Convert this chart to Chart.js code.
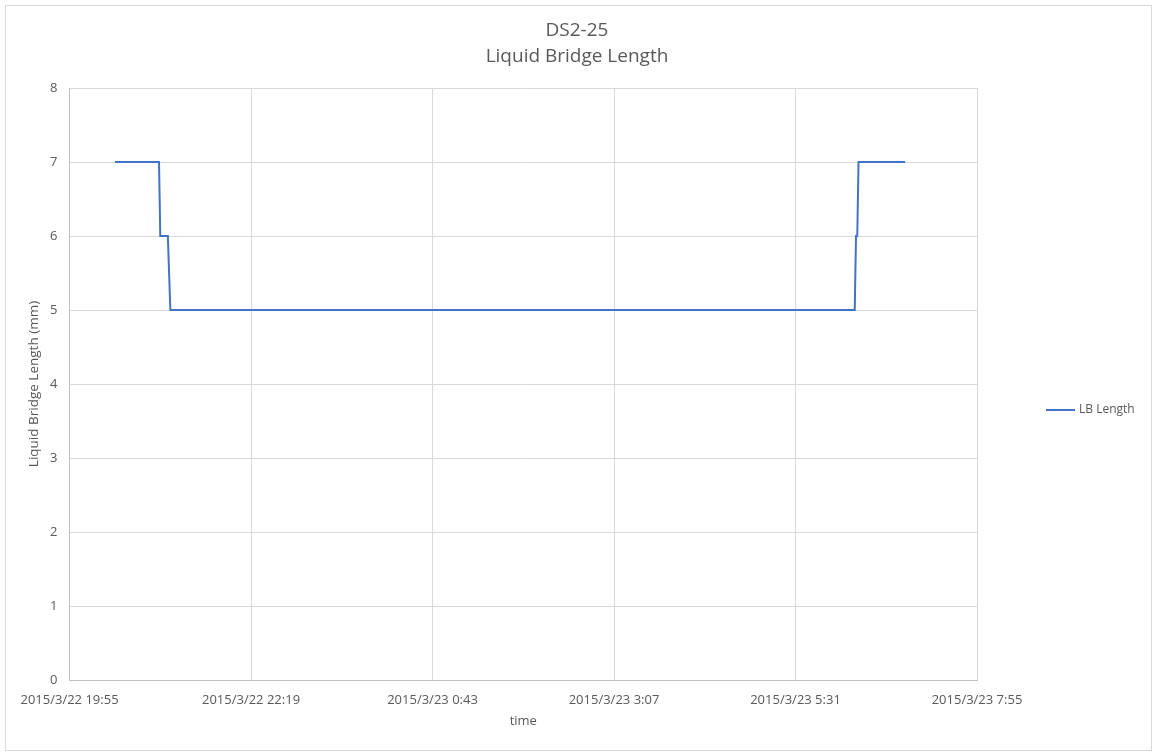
<!DOCTYPE html>
<html>
<head>
<meta charset="utf-8">
<script src="https://cdn.jsdelivr.net/npm/chart.js@4.4.0/dist/chart.umd.min.js"></script>
<style>
html,body{margin:0;padding:0;background:#fff;}
#wrap{position:absolute;left:0;top:0;width:1157px;height:756px;}
</style>
</head>
<body>
<div id="wrap"><canvas id="c" width="1157" height="756"></canvas></div>
<script>
// ---- data ----
const chartTitle = ["DS2-25","Liquid Bridge Length"];
const axisStart = "2015/3/22 19:55";
const tickLabels = ["2015/3/22 19:55","2015/3/22 22:19","2015/3/23 0:43","2015/3/23 3:07","2015/3/23 5:31","2015/3/23 7:55"];
const times = ["2015/3/22 20:31","2015/3/22 21:06","2015/3/22 21:07","2015/3/22 21:13","2015/3/22 21:15",
               "2015/3/23 6:18","2015/3/23 6:19","2015/3/23 6:20","2015/3/23 6:21","2015/3/23 6:58"];
const lbLength = [7,7,6,6,5,5,6,6,7,7];
const seriesName = "LB Length";

function parseT(s){
  const [d,t]=s.split(" ");
  const [Y,M,D]=d.split("/").map(Number);
  const [h,m]=t.split(":").map(Number);
  return Date.UTC(Y,M-1,D,h,m)/60000;
}
const t0 = parseT(axisStart);
const tickMins = tickLabels.map(s=>parseT(s)-t0);
const points = times.map((s,i)=>({x:parseT(s)-t0, y:lbLength[i]}));

const FONT = "'Open Sans', 'Noto Sans', sans-serif";
const TXT = "#595959";
const GRID = "#d9d9d9";

const deco = {
  id:'deco',
  beforeDraw(chart){
    const ctx=chart.ctx;
    ctx.save();
    ctx.fillStyle='#fff';
    ctx.fillRect(0,0,chart.width,chart.height);
    ctx.strokeStyle='#d9d9d9';
    ctx.lineWidth=1;
    ctx.strokeRect(5.5,5.5,1146,745);
    ctx.restore();
  },
  afterDraw(chart){
    const ctx=chart.ctx;
    const ds=chart.data.datasets[0];
    ctx.save();
    // title, centred on the whole chart
    ctx.fillStyle=TXT;
    ctx.font="19px "+FONT;
    ctx.textAlign='center';
    ctx.textBaseline='middle';
    ctx.fillText(chartTitle[0],577,31);
    ctx.fillText(chartTitle[1],577,57);
    // legend
    ctx.strokeStyle=ds.borderColor;
    ctx.lineWidth=2;
    ctx.beginPath();
    ctx.moveTo(1046,410);ctx.lineTo(1075,410);ctx.stroke();
    ctx.font="12px "+FONT;
    ctx.textAlign='left';
    ctx.fillText(ds.label,1079,410);
    ctx.restore();
  }
};

new Chart(document.getElementById('c'),{
  type:'line',
  data:{datasets:[{
    label:seriesName,
    data:points,
    borderColor:'#4472C4',
    backgroundColor:'#4472C4',
    borderWidth:2,
    pointRadius:0,
    tension:0,
    fill:false
  }]},
  options:{
    responsive:false,
    animation:false,
    layout:{padding:{left:25,right:180,top:88,bottom:31}},
    plugins:{
      legend:{display:false},
      tooltip:{enabled:false},
      title:{display:false}
    },
    scales:{
      x:{
        type:'linear',
        min:0,max:720,
        afterBuildTicks(s){ s.ticks = tickMins.map(v=>({value:v})); },
        ticks:{
          autoSkip:false,maxRotation:0,
          color:TXT,font:{family:FONT,size:13,lineHeight:1.0},padding:14,
          callback:(v)=>{const i=tickMins.indexOf(v);return i>=0?tickLabels[i]:'';}
        },
        grid:{color:GRID,drawTicks:false},
        border:{color:'#bfbfbf'},
        title:{display:true,text:'time',color:TXT,font:{family:FONT,size:13,lineHeight:0},padding:{top:0,bottom:4}}
      },
      y:{
        min:0,max:8,
        ticks:{stepSize:1,color:TXT,font:{family:FONT,size:13},padding:12},
        grid:{color:GRID,drawTicks:false},
        border:{color:'#bfbfbf'},
        title:{display:true,text:'Liquid Bridge Length (mm)',color:TXT,font:{family:FONT,size:13.5,lineHeight:0.6},padding:{top:5,bottom:0}}
      }
    }
  },
  plugins:[deco]
});
</script>
</body>
</html>
